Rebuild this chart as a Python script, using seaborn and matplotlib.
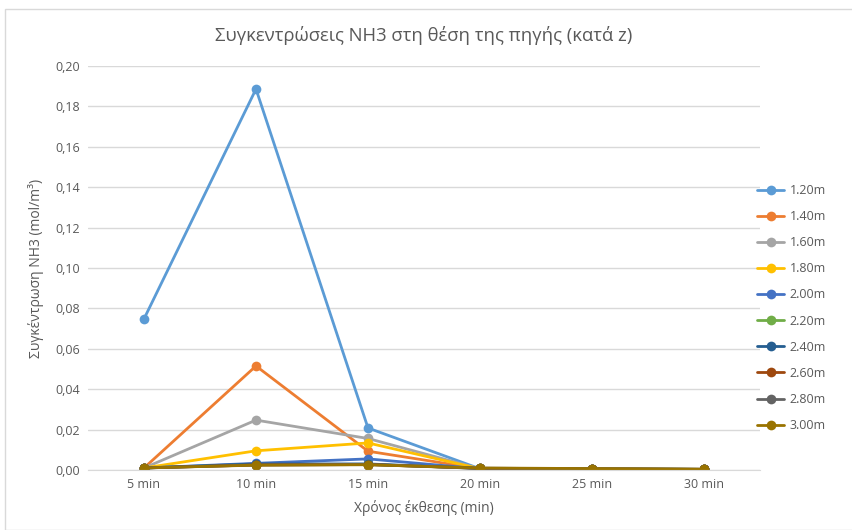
import matplotlib
matplotlib.use("Agg")
import matplotlib.pyplot as plt
import seaborn as sns
import pandas as pd
from matplotlib.patches import Rectangle
from matplotlib.ticker import FuncFormatter

times = ["5 min", "10 min", "15 min", "20 min", "25 min", "30 min"]
heights = ["1.20m", "1.40m", "1.60m", "1.80m", "2.00m", "2.20m", "2.40m", "2.60m", "2.80m", "3.00m"]
v120 = [0.0748, 0.1886, 0.0208, 0.0006, 0.0004, 0.0003]
v140 = [0.0010, 0.0515, 0.0093, 0.0006, 0.0004, 0.0003]
v160 = [0.0010, 0.0247, 0.0156, 0.0006, 0.0004, 0.0003]
v180 = [0.0010, 0.0095, 0.0134, 0.0006, 0.0004, 0.0003]
v200 = [0.0010, 0.0033, 0.0055, 0.0006, 0.0004, 0.0003]
v220 = [0.0010, 0.0027, 0.0028, 0.0008, 0.0005, 0.0003]
v240 = [0.0010, 0.0030, 0.0030, 0.0008, 0.0005, 0.0003]
v260 = [0.0010, 0.0025, 0.0027, 0.0008, 0.0005, 0.0003]
v280 = [0.0010, 0.0025, 0.0027, 0.0009, 0.0006, 0.0004]
v300 = [0.0010, 0.0024, 0.0026, 0.0010, 0.0007, 0.0004]
series = [v120, v140, v160, v180, v200, v220, v240, v260, v280, v300]
colors = ["#5B9BD5", "#ED7D31", "#A5A5A5", "#FFC000", "#4472C4",
          "#70AD47", "#255E91", "#9E480E", "#636363", "#997300"]

rows = []
for h, vals in zip(heights, series):
    for i, (t, v) in enumerate(zip(times, vals)):
        rows.append({"pos": i, "time": t, "height": h, "value": v})
df = pd.DataFrame(rows)

sns.set_style("white")
plt.rcParams["font.family"] = ["Open Sans", "DejaVu Sans"]

fig = plt.figure(figsize=(8.53, 5.30), dpi=100)
ax = fig.add_axes([88/853, 1-470/530, (760-88)/853, (470-66)/530])

sns.lineplot(data=df, x="pos", y="value", hue="height", hue_order=heights,
             palette=colors, marker="o", markersize=7, linewidth=2,
             markeredgewidth=0, ax=ax, legend=True)

ax.set_xlim(-0.5, 5.5)
ax.set_ylim(0, 0.20)
ax.set_xticks(range(len(times)))
ax.set_xticklabels(times)
ax.set_yticks([i*0.02 for i in range(11)])
ax.yaxis.set_major_formatter(FuncFormatter(lambda v, p: f"{v:.2f}".replace(".", ",")))
ax.grid(axis="y", color="#D9D9D9", linewidth=1)
ax.set_axisbelow(True)
for s in ["top", "right", "left"]:
    ax.spines[s].set_visible(False)
ax.spines["bottom"].set_color("#D9D9D9")
ax.tick_params(axis="both", length=0, labelsize=9, colors="#595959", pad=6)
ax.set_xlabel("Χρόνος έκθεσης (min)", fontsize=10, color="#595959", labelpad=6)
ax.set_ylabel("Συγκέντρωση NH3 (mol/m³)", fontsize=10, color="#595959", labelpad=8)
ax.set_title("Συγκεντρώσεις NH3 στη θέση της πηγής (κατά z)", fontsize=13.3,
             color="#595959", pad=18)

handles, labels = ax.get_legend_handles_labels()
ax.legend(handles, labels, loc="center left", bbox_to_anchor=(752/853, 1-308/530),
          bbox_transform=fig.transFigure, frameon=False, fontsize=9,
          labelcolor="#595959", labelspacing=1.05, handlelength=2.2,
          handletextpad=0.4, borderaxespad=0)

fig.patches.append(Rectangle((5/853, 0.0), 1-5/853, 1-9/530, transform=fig.transFigure,
                             fill=False, edgecolor="#D9D9D9", linewidth=1))

fig.savefig("out.png", dpi=100, facecolor="white")
